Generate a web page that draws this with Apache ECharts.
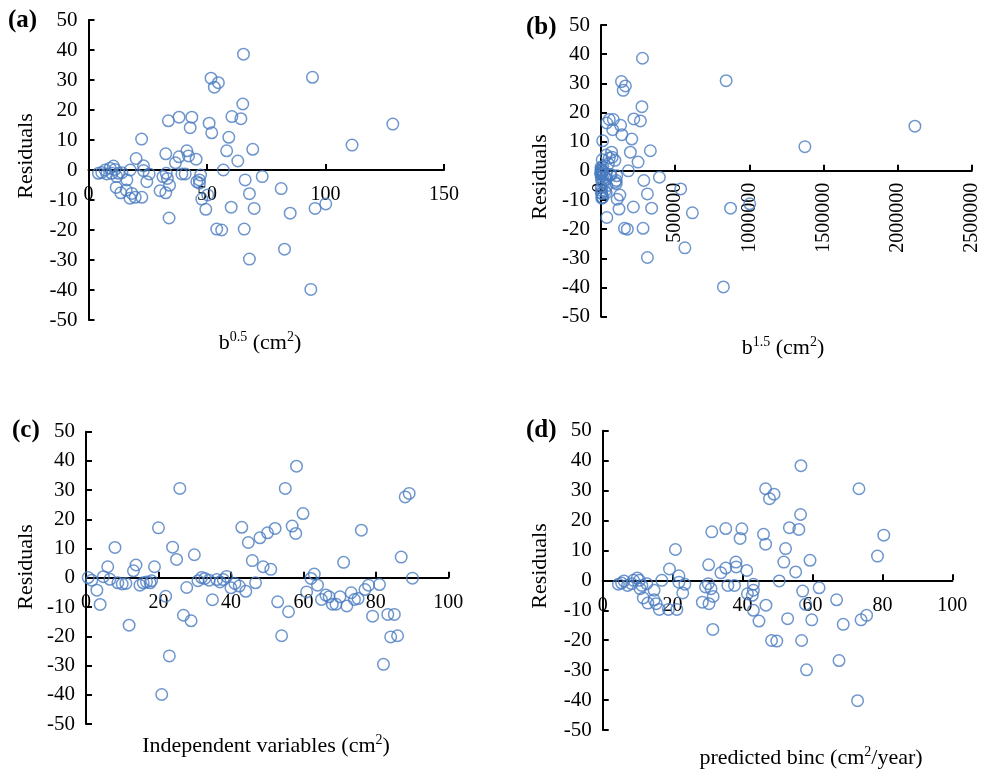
<!DOCTYPE html>
<html>
<head>
<meta charset="utf-8">
<script src="https://cdn.jsdelivr.net/npm/echarts@6/dist/echarts.min.js"></script>
<style>html,body{margin:0;padding:0;background:#fff}#c{width:990px;height:770px}</style>
</head>
<body>
<div id="c"></div>
<script>
// Panel (a): x = b^0.5, residuals
const aX = [65.4,94.5,51.7,54.8,53.1,65.1,38.2,43.6,33.7,60.5,64.3,50.9,128.4,42.9,52.0,59.2,22.4,111.2,69.3,58.3,41.5,32.6,42.2,38.2,20.1,45.4,63.0,36.7,23.2,56.9,66.1,73.3,81.3,67.9,47.8,49.5,60.2,69.9,85.1,95.6,100.1,34.0,54.1,56.2,65.7,82.7,67.9,93.8,22.5,
  11.7,13.6,15.9,17.5,18.3,19.7,16.2,24.6,25.6,23.2,17.6,30.2,32.6,34.2,31.4,32.8,33.3,39.4,40.8,45.7,46.8,47.3,46.8,4.2,5.6,7.0,7.7,9.1,10.5,11.2,12.7,11.9,14.1,9.8,50.3];
const aY = [38.6,30.9,30.6,29.1,27.6,22.0,17.6,17.6,16.4,17.8,17.1,15.6,15.3,14.1,12.4,10.9,10.3,8.3,6.9,6.4,6.4,5.4,4.7,4.4,3.8,3.6,3.0,2.4,1.4,0.0,-3.3,-2.2,-6.2,-7.9,-9.7,-13.1,-12.4,-12.8,-14.4,-12.8,-11.3,-16.0,-19.7,-20.0,-19.7,-26.4,-29.7,-39.8,-9.1,
  -5.8,-7.6,-6.7,-9.4,-7.8,-9.1,-3.3,-3.9,-1.3,-0.2,0.0,-6.9,-7.6,-5.1,-2.2,-1.1,-2.8,-1.3,-1.3,-3.9,-3.3,-1.7,-4.4,-1.1,-0.8,0.0,-1.3,0.6,1.3,0.2,-1.1,-2.2,-0.9,-1.1,-8.3];
// Panel (b): x = b^1.5 (same residuals as panel a)
const bX = [279700,843900,138200,164600,149700,275900,55700,82900,38300,221400,265800,131900,2116900,79000,140600,207500,11200,1375000,332800,198200,71500,34600,75200,55700,8100,93600,250000,49400,12500,184200,288800,393800,537400,313000,109200,121300,218200,341500,616300,873700,1003000,39300,158300,177500,283600,565600,313000,825300,11400,
  1600,2500,4000,5400,6100,7600,4300,14900,16800,12500,5500,27500,34600,40000,31000,35300,36900,61200,67900,95400,102500,105800,102500,70,180,340,460,750,1160,1400,2050,1690,2800,940,127300];
const bY = aY;
// Panel (c): independent variables
const cX = [0.6,1.6,3.0,3.9,4.8,6.0,6.6,8.0,8.8,10.0,11.0,11.9,13.1,13.8,14.9,15.8,16.7,17.7,18.1,18.9,20.0,22.0,20.9,23.0,23.9,25.0,25.9,26.9,27.8,29.0,29.9,30.9,31.9,32.8,34.0,34.9,36.1,37.0,37.9,38.8,40.0,41.1,42.3,43.0,44.1,44.8,45.9,46.8,48.0,50.1,52.2,48.9,51.0,
  52.9,55.9,54.0,55.0,58.1,56.9,57.9,59.9,60.9,62.1,63.0,63.9,65.0,66.2,67.1,68.0,69.0,70.1,71.1,72.0,73.2,74.1,75.1,76.0,77.0,78.0,79.1,81.0,83.3,85.1,84.1,86.0,82.1,87.0,88.1,89.2,90.1];
const cY = [0.1,-0.8,-4.2,-9.1,0.4,3.8,-0.5,10.4,-1.7,-2.1,-1.9,-16.2,2.4,4.4,-2.5,-1.7,-1.4,-1.7,-1.0,3.8,17.1,-6.3,-39.9,-26.7,10.5,6.3,30.6,-12.8,-3.3,-14.7,7.9,-1.0,0.1,-0.2,-0.8,-7.5,-0.6,-1.4,-0.6,0.5,-3.4,-1.9,-2.8,17.3,-4.6,12.1,5.9,-1.7,13.7,15.4,16.9,3.8,2.9,
  -8.2,-11.6,-19.8,30.6,38.2,17.7,15.2,22.0,-4.8,-0.2,1.3,-2.5,-7.4,-5.9,-6.5,-9.0,-9.0,-6.5,5.3,-9.6,-5.1,-7.4,-7.1,16.3,-4.0,-2.5,-13.1,-2.3,-12.5,-12.5,-20.2,-19.8,-29.6,7.1,27.7,28.9,-0.1];
// Panel (d): predicted binc
const dX = [56.7,73.3,46.6,49.0,47.7,56.6,35.2,39.8,31.2,53.4,56.1,46.0,80.4,39.3,46.6,52.3,20.8,78.6,59.3,51.8,38.1,30.3,38.2,35.2,19.1,41.2,55.2,33.8,21.8,50.5,57.2,61.9,66.9,58.0,43.1,44.7,52.9,59.8,68.8,73.9,75.5,31.5,48.3,49.8,56.9,67.6,58.3,72.9,21.2,
  11.6,12.9,14.7,16.2,15.3,18.8,14.7,22.9,23.5,21.8,16.9,28.5,30.4,31.6,29.4,30.2,31.0,35.8,37.7,41.4,43.1,43.1,42.8,4.5,5.4,6.1,7.1,8.8,9.9,10.5,11.2,10.7,12.6,8.3,46.7];
const dY = [38.3,30.6,30.6,28.8,27.3,22.0,17.3,17.2,16.2,17.6,17.0,15.4,15.1,14.0,12.1,10.6,10.3,8.1,6.7,6.1,6.1,5.2,4.5,4.1,3.8,3.3,2.8,2.5,1.5,-0.2,-3.6,-2.5,-6.5,-8.0,-10.0,-13.6,-12.8,-13.2,-14.7,-13.2,-11.7,-16.4,-20.1,-20.3,-20.1,-26.8,-29.9,-40.2,-9.7,
  -5.9,-7.6,-6.5,-9.7,-7.8,-9.7,-3.3,-4.2,-1.3,-0.6,0.0,-7.3,-7.8,-5.4,-2.2,-1.1,-2.8,-1.7,-1.7,-4.5,-3.3,-1.3,-5.0,-1.3,-0.9,-0.2,-1.7,0.0,0.8,0.0,-1.7,-2.8,-1.1,-1.1,-8.3];

const yTicks = {min: -50, max: 50, interval: 10};
const xRanges = [
  {min: 0, max: 150, interval: 50},
  {min: 0, max: 2500000, interval: 500000},
  {min: 0, max: 100, interval: 20},
  {min: 0, max: 100, interval: 20}
];
const yTitle = 'Residuals';
const xTitles = [
  '{n|b}{s|0.5}{n| (cm}{s|2}{n|)}',
  '{n|b}{s|1.5}{n| (cm}{s|2}{n|)}',
  '{n|Independent variables (cm}{s|2}{n|)}',
  '{n|predicted binc (cm}{s|2}{n|/year)}'
];
const panelLetters = ['(a)', '(b)', '(c)', '(d)'];

const FONT = 'Liberation Serif';
const BLUE = '#4a7cc0';
const grids = [
  {left: 88.5, top: 20, width: 355.5, height: 300},
  {left: 601, top: 25, width: 370.7, height: 291.7},
  {left: 86, top: 431.7, width: 362.3, height: 292.3},
  {left: 602.7, top: 430.7, width: 349.6, height: 299.3}
];
const xTitlePos = [[260, 343], [783, 348], [266, 746], [811, 758]];
const yTitlePos = [[26, 156], [540, 177], [26, 567], [540, 566]];
const letterPos = [[8, 21], [526, 28], [12, 431], [526, 431]];
const panels = [[aX, aY], [bX, bY], [cX, cY], [dX, dY]];

const lineStyle = {color: '#000', width: 2};
// x axes are drawn through y = 0 (middle of the symmetric -50..50 range)
const xAxes = xRanges.map((r, i) => ({
  gridIndex: i, type: 'value', min: r.min, max: r.max, interval: r.interval,
  position: 'bottom', offset: -grids[i].height / 2,
  axisLine: {show: true, onZero: false, lineStyle: lineStyle},
  axisTick: {show: true, inside: true, length: 6, lineStyle: lineStyle},
  axisLabel: {color: '#000', fontFamily: FONT, fontSize: 20, margin: i === 1 ? 12 : 15, rotate: i === 1 ? 90 : 0,
    showMinLabel: true, showMaxLabel: true, formatter: v => String(v)},
  splitLine: {show: false}
}));
const yAxes = grids.map((g, i) => ({
  gridIndex: i, type: 'value', min: yTicks.min, max: yTicks.max, interval: yTicks.interval,
  axisLine: {show: true, onZero: false, lineStyle: lineStyle},
  axisTick: {show: true, inside: true, length: 6, lineStyle: lineStyle},
  axisLabel: {color: '#000', fontFamily: FONT, fontSize: 21, margin: 11},
  splitLine: {show: false}
}));
const series = panels.map((p, i) => ({
  type: 'scatter', xAxisIndex: i, yAxisIndex: i,
  symbol: 'circle', symbolSize: 11.5,
  itemStyle: {color: 'rgba(0,0,0,0)', borderColor: BLUE, borderWidth: 1.5},
  data: p[0].map((x, k) => [x, p[1][k]]),
  z: 3
}));

const rich = {
  n: {fontFamily: FONT, fontSize: 22, color: '#000', lineHeight: 26},
  s: {fontFamily: FONT, fontSize: 14, color: '#000', lineHeight: 26, verticalAlign: 'top', padding: [0, 0, 10, 0]}
};
const graphic = [];
for (let i = 0; i < 4; i++) {
  graphic.push({type: 'text', x: letterPos[i][0], y: letterPos[i][1],
    style: {text: panelLetters[i], fontFamily: FONT, fontSize: 25, fontWeight: 'bold', fill: '#000', align: 'left', verticalAlign: 'middle'}});
  graphic.push({type: 'text', x: xTitlePos[i][0], y: xTitlePos[i][1],
    style: {text: xTitles[i], rich: rich, align: 'center', verticalAlign: 'middle'}});
  graphic.push({type: 'text', x: yTitlePos[i][0], y: yTitlePos[i][1], rotation: Math.PI / 2,
    style: {text: yTitle, fontFamily: FONT, fontSize: 22, fill: '#000', align: 'center', verticalAlign: 'middle'}});
}

const chart = echarts.init(document.getElementById('c'), null, {renderer: 'canvas'});
chart.setOption({
  animation: false,
  backgroundColor: '#fff',
  grid: grids,
  xAxis: xAxes,
  yAxis: yAxes,
  series: series,
  graphic: graphic
});
</script>
</body>
</html>
